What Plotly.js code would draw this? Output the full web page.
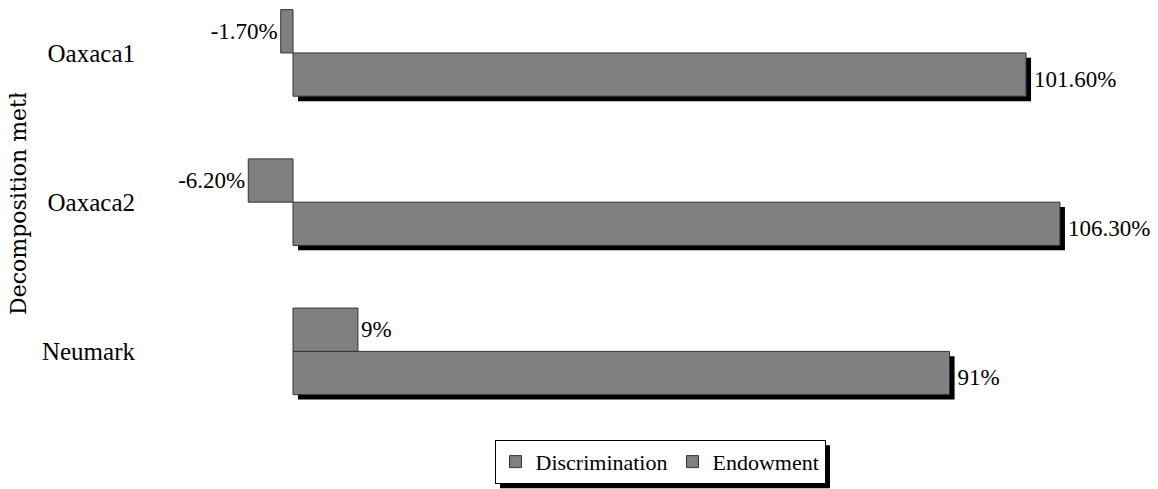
<!DOCTYPE html>
<html>
<head>
<meta charset="utf-8">
<script src="https://cdn.plot.ly/plotly-3.0.1.min.js"></script>
<style>
  html, body { margin: 0; padding: 0; background: #ffffff; }
  #chart { width: 1158px; height: 489px; }
</style>
</head>
<body>
<div id="chart"></div>
<script>
// Decomposition of the wage gap into endowment and discrimination shares
const methods = ['Oaxaca1', 'Oaxaca2', 'Neumark'];
const discrimination = [101.6, 106.3, 91];
const endowment = [-1.7, -6.2, 9];
const discriminationLabels = ['101.60%', '106.30%', '91%'];
const endowmentLabels = ['-1.70%', '-6.20%', '9%'];

const FONT = 'Liberation Serif';
const TITLE_FONT = 'DejaVu Serif';
const BAR_FILL = '#808080';
const BAR_LINE = '#333333';

// page geometry (pixels)
const W = 1158, H = 489;
const M = { l: 150, r: 40, t: 5, b: 59 };
const plotW = W - M.l - M.r, plotH = H - M.t - M.b;
const zeroPx = 293, pxPerPct = 7.215;       // horizontal scale
const firstCatPx = 53.5, pxPerCat = 151;   // vertical scale
const barW = 0.29;                         // bar thickness in category units
const shadowPx = 5;

const xRange = [-(zeroPx - M.l) / pxPerPct, (M.l + plotW - zeroPx) / pxPerPct];
const yTop = -(firstCatPx - M.t) / pxPerCat;
const yBottom = (methods.length - 1) + (M.t + plotH - (firstCatPx + (methods.length - 1) * pxPerCat)) / pxPerCat;

const shadowDx = shadowPx / pxPerPct;
const shadowDy = shadowPx / pxPerCat;

const traces = [
  // drop shadow under the discrimination bars (carries their value labels)
  {
    type: 'bar', orientation: 'h', y: methods, x: discrimination,
    base: shadowDx, width: barW, offset: shadowDy,
    marker: { color: '#000000', line: { width: 0 } },
    text: discriminationLabels, textposition: 'outside',
    textfont: { family: FONT, size: 23, color: '#000000' },
    constraintext: 'none', cliponaxis: false,
    showlegend: false, hoverinfo: 'skip'
  },
  {
    type: 'bar', orientation: 'h', name: 'Discrimination',
    y: methods, x: discrimination, width: barW, offset: 0,
    marker: { color: BAR_FILL, line: { color: BAR_LINE, width: 1 } },
    cliponaxis: false
  },
  {
    type: 'bar', orientation: 'h', name: 'Endowment',
    y: methods, x: endowment, width: barW, offset: -barW,
    marker: { color: BAR_FILL, line: { color: BAR_LINE, width: 1 } },
    text: endowmentLabels, textposition: 'outside',
    textfont: { family: FONT, size: 23, color: '#000000' },
    constraintext: 'none', cliponaxis: false
  }
];

const layout = {
  width: W, height: H,
  margin: M,
  paper_bgcolor: '#ffffff', plot_bgcolor: '#ffffff',
  barmode: 'overlay',
  font: { family: FONT, size: 23, color: '#000000' },
  showlegend: true,
  xaxis: {
    range: xRange, visible: false, fixedrange: true, zeroline: false, showgrid: false
  },
  yaxis: {
    type: 'category', categoryorder: 'array', categoryarray: methods,
    range: [yBottom, yTop],
    showgrid: false, zeroline: false, showline: false, ticks: '',
    ticklabelstandoff: 14,
    tickfont: { family: FONT, size: 25, color: '#000000' },
    fixedrange: true
  },
  legend: {
    orientation: 'h',
    x: (660 - M.l) / plotW, xanchor: 'center',
    y: -(445 - (M.t + plotH)) / plotH, yanchor: 'top',
    bgcolor: '#ffffff', bordercolor: '#000000', borderwidth: 1,
    font: { family: FONT, size: 22, color: '#000000' },
    itemwidth: 30, tracegroupgap: 0
  },
  annotations: [{
    text: 'Decomposition method',
    xref: 'paper', yref: 'paper',
    x: (19 - M.l) / plotW, xanchor: 'center',
    y: (M.t + plotH - 313) / plotH, yanchor: 'bottom', yshift: -8,
    textangle: -90, showarrow: false,
    font: { family: TITLE_FONT, size: 22, color: '#000000' }
  }]
};

function clipCaption(gd) {
  // the axis caption is cut off where the chart frame begins
  const svg = gd.querySelector('svg.main-svg');
  const ns = 'http://www.w3.org/2000/svg';
  let defs = svg.querySelector('defs');
  if (!document.getElementById('caption-clip')) {
    const cp = document.createElementNS(ns, 'clipPath');
    cp.setAttribute('id', 'caption-clip');
    cp.setAttribute('clipPathUnits', 'userSpaceOnUse');
    const r = document.createElementNS(ns, 'rect');
    r.setAttribute('x', 0); r.setAttribute('y', 93);
    r.setAttribute('width', 120); r.setAttribute('height', H);
    cp.appendChild(r); defs.appendChild(cp);
  }
  gd.querySelectorAll('.infolayer g.annotation').forEach(function (g) {
    g.setAttribute('clip-path', 'url(#caption-clip)');
  });
}

Plotly.newPlot('chart', traces, layout, { staticPlot: true }).then(function (gd) {
  const size = gd._fullLayout._size;
  const host = gd.getBoundingClientRect();
  const bg = gd.querySelector('.legend .bg');
  if (!bg) { clipCaption(gd); return; }
  // drop shadow behind the legend box
  const b = bg.getBoundingClientRect();
  const x0 = b.left - host.left + shadowPx, x1 = b.right - host.left + shadowPx;
  const y0 = b.top - host.top + shadowPx, y1 = b.bottom - host.top + shadowPx;
  return Plotly.relayout(gd, {
    shapes: [{
      type: 'rect', xref: 'paper', yref: 'paper', layer: 'above',
      x0: (x0 - size.l) / size.w, x1: (x1 - size.l) / size.w,
      y0: 1 - (y1 - size.t) / size.h, y1: 1 - (y0 - size.t) / size.h,
      fillcolor: '#000000', line: { width: 0 }
    }]
  }).then(function () { clipCaption(gd); });
});
</script>
</body>
</html>
